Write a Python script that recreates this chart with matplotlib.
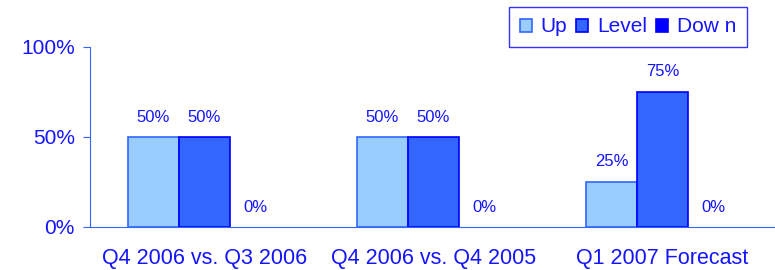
import numpy as np
import matplotlib.pyplot as plt
from matplotlib.patches import Patch

plt.rcParams['font.family'] = ['Liberation Sans', 'DejaVu Sans']

categories = ['Q4 2006 vs. Q3 2006', 'Q4 2006 vs. Q4 2005', 'Q1 2007 Forecast']
series = ['Up', 'Level', 'Dow n']
up = [50, 50, 25]
level = [50, 50, 75]
down = [0, 0, 0]

fills = ['#99ccff', '#3366ff', '#0000ff']
edges = ['#3366ff', '#0000ff', '#0000ff']
txt = '#1414ff'
axcol = '#3366ff'

fig = plt.figure(figsize=(7.75, 2.7), dpi=100)
ax = fig.add_axes([90/775, 1-227/270, 687/775, 180/270])

x = np.arange(len(categories))
w = 0.223
for i, vals in enumerate([up, level, down]):
    pos = x + (i-1)*w
    # zero-height bars show no outline in the original
    lws = [1.2 if v > 0 else 0 for v in vals]
    ax.bar(pos, vals, width=w, color=fills[i], edgecolor=edges[i], linewidth=lws)
    for p, v in zip(pos, vals):
        ax.annotate('%d%%' % v, (p, v), xytext=(0, 9), textcoords='offset points',
                    ha='center', va='bottom', fontsize=12, color=txt)

ax.set_xlim(-0.5, 2.5)
ax.set_ylim(0, 100)
ax.set_yticks([0, 50, 100])
ax.set_yticklabels(['0%', '50%', '100%'], fontsize=15, color=txt)
ax.set_xticks(x)
ax.set_xticklabels(categories, fontsize=15.5, color=txt)
ax.tick_params(axis='x', length=0, pad=15)
ax.tick_params(axis='y', length=5, color=axcol, pad=6)
for s in ['top', 'right']:
    ax.spines[s].set_visible(False)
for s in ['left', 'bottom']:
    ax.spines[s].set_color(axcol)
ax.spines['left'].set_bounds(0, 100)

handles = [Patch(facecolor=fills[i], edgecolor=edges[i], linewidth=1.2) for i in range(3)]
leg = fig.legend(handles, series, loc='upper right', bbox_to_anchor=(747/775, 1-7/270),
                 ncol=3, fontsize=15, frameon=True, fancybox=False,
                 handlelength=0.58, handleheight=0.58, handletextpad=0.43,
                 columnspacing=0.43, borderpad=0.5, borderaxespad=0)
leg.get_frame().set_edgecolor('#0000ff')
leg.get_frame().set_linewidth(1)
for t in leg.get_texts():
    t.set_color(txt)

fig.savefig('out.png', dpi=100)
